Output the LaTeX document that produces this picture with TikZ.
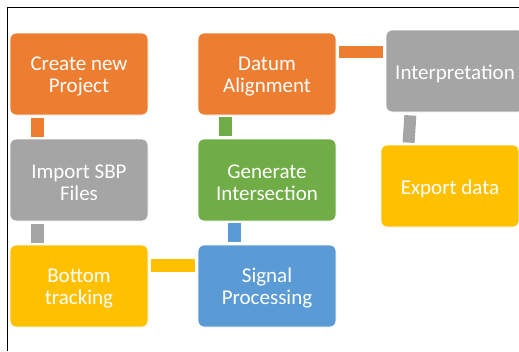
\documentclass[tikz,border=0pt]{standalone}
\usepackage{fontspec}
\setmainfont{Carlito}
\definecolor{cOrange}{HTML}{ED7D31}
\definecolor{cGray}{HTML}{A5A5A5}
\definecolor{cGreen}{HTML}{70AD47}
\definecolor{cBlue}{HTML}{5B9BD5}
\definecolor{cYellow}{HTML}{FFC000}
\tikzset{
  stepbox/.style={rectangle, rounded corners=6pt, draw=white, line width=0.8pt,
    minimum width=138pt, minimum height=82pt, inner sep=2pt,
    text=white, align=center,
    font=\fontsize{21}{22}\selectfont},
  % invisible struts that lower the text a little inside its box
  oneline/.style={stepbox, execute at begin node={\rule{0pt}{19.5pt}}},
  twoline/.style={stepbox, execute at begin node={\rule{0pt}{41.5pt}}},
  vlink/.style={line width=13pt, shorten <=3pt, shorten >=2pt},
  hlink/.style={line width=13pt, shorten <=3pt, shorten >=3pt},
}
\begin{document}
\begin{tikzpicture}[x=1pt, y=-1pt]
  \useasboundingbox (0,0) rectangle (519,351);
  % frame lines along the top and left
  \draw[line width=1.6pt] (7.5,351) -- (7.5,7.5) -- (519,7.5);

  % process steps
  \node[twoline, fill=cOrange] (create) at (79,74)  {Create new\\Project};
  \node[twoline, fill=cGray]   (import) at (79,180) {Import SBP\\Files};
  \node[twoline, fill=cYellow] (bottom) at (79,286) {Bottom\\tracking};
  \node[twoline, fill=cBlue]   (signal) at (267,286) {Signal\\Processing};
  \node[twoline, fill=cGreen]  (gen)    at (267,180) {Generate\\Intersection};
  \node[twoline, fill=cOrange] (datum)  at (267,74)  {Datum\\Alignment};
  \node[oneline, fill=cGray]   (interp) at (455,71)  {Interpretation};
  \node[oneline, fill=cYellow] (export) at (450,186) {Export data};

  % connecting bars
  \draw[vlink, cOrange] ([xshift=-41.5pt]create.south) -- ([xshift=-41.5pt]import.north);
  \draw[vlink, cGray]   ([xshift=-41.5pt]import.south) -- ([xshift=-41.5pt]bottom.north);
  \draw[hlink, cYellow] ([yshift=20.5pt]bottom.east) -- ([yshift=20.5pt]signal.west);
  \draw[vlink, cBlue]   ([xshift=-32.5pt]signal.north) -- ([xshift=-32.5pt]gen.south);
  \draw[vlink, cGreen]  ([xshift=-41.5pt]gen.north) -- ([xshift=-41.5pt]datum.south);
  \draw[hlink, cOrange, line width=12pt] ([yshift=22pt]datum.east) -- ([yshift=19pt]interp.west);
  \draw[vlink, cGray, line width=12pt] ([xshift=-44.5pt]interp.south) -- ([xshift=-41.5pt]export.north);
\end{tikzpicture}
\end{document}
